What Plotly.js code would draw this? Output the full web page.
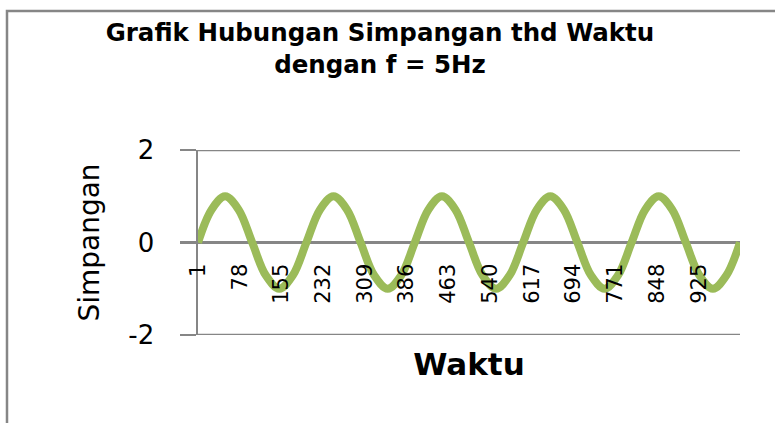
<!DOCTYPE html>
<html>
<head>
<meta charset="utf-8">
<script src="https://cdn.plot.ly/plotly-3.0.1.min.js"></script>
<style>html,body{margin:0;padding:0;background:#fff;}#chart{width:775px;height:423px;}</style>
</head>
<body>
<div id="chart"></div>
<script>
// Waktu (sample index) and Simpangan (5 full cycles)
const waktu = [1, 26, 51, 76, 101, 126, 151, 176, 201, 226, 251, 276, 301, 326, 351, 376, 401, 426, 451, 476, 501, 526, 551, 576, 601, 626, 651, 676, 701, 726, 751, 776, 801, 826, 851, 876, 901, 926, 951, 976, 1001];
const simpangan = [0, 0.71, 1, 0.71, 0, -0.71, -1, -0.71, 0, 0.71, 1, 0.71, 0, -0.71, -1, -0.71, 0, 0.71, 1, 0.71, 0, -0.71, -1, -0.71, 0, 0.71, 1, 0.71, 0, -0.71, -1, -0.71, 0, 0.71, 1, 0.71, 0, -0.71, -1, -0.71, 0];
const xTickVals = [1, 78, 155, 232, 309, 386, 463, 540, 617, 694, 771, 848, 925];
const xTickText = ["1", "78", "155", "232", "309", "386", "463", "540", "617", "694", "771", "848", "925"];
const yTickVals = [-2, 0, 2];
const yTickText = ["-2", "0", "2"];

const gray = '#868686';
const lw = 2.5;
const data = [{
  x: waktu, y: simpangan, type: 'scatter', mode: 'lines',
  line: {color: '#9BBB59', width: 8, shape: 'spline', smoothing: 1},
  hoverinfo: 'skip'
}];

// gridlines at the edge values of the y axis (Plotly skips grid at the range ends)
const edgeGrid = [yTickVals[0], yTickVals[yTickVals.length - 1]].map(v => ({
  type: 'line', xref: 'paper', yref: 'y', x0: 0, x1: 1, y0: v, y1: v,
  line: {color: gray, width: lw}, layer: 'below'
}));

const layout = {
  width: 775, height: 423,
  margin: {l: 198, r: 35, t: 150, b: 88},
  paper_bgcolor: '#ffffff', plot_bgcolor: '#ffffff',
  showlegend: false,
  title: {
    text: 'Grafik Hubungan Simpangan thd Waktu<br>dengan f = 5Hz',
    font: {family: 'DejaVu Sans', size: 24.5, color: '#000', weight: 'bold'},
    x: 0.4903, xanchor: 'center', y: 0.902, yanchor: 'top', yref: 'container'
  },
  xaxis: {
    range: [1, 1001], anchor: 'free', position: 0.5,
    tickmode: 'array', tickvals: xTickVals, ticktext: xTickText,
    tickangle: -90, ticks: '', showgrid: false, zeroline: false, showline: false,
    ticklabelstandoff: 16,
    tickfont: {family: 'DejaVu Sans', size: 21, color: '#000'},
    title: {text: 'Waktu', standoff: 50, font: {family: 'DejaVu Sans', size: 31, color: '#000', weight: 'bold'}},
    automargin: false
  },
  yaxis: {
    range: [-2, 2], tickmode: 'array', tickvals: yTickVals, ticktext: yTickText,
    ticks: 'outside', ticklen: 16, tickwidth: lw, tickcolor: gray,
    showgrid: true, gridcolor: gray, gridwidth: lw,
    zeroline: true, zerolinecolor: gray, zerolinewidth: lw,
    showline: true, linecolor: gray, linewidth: lw,
    layer: 'below traces',
    ticklabelstandoff: 20,
    tickfont: {family: 'DejaVu Sans', size: 26, color: '#000'},
    title: {text: 'Simpangan', standoff: 21, font: {family: 'DejaVu Sans', size: 28, color: '#000'}},
    automargin: false
  },
  shapes: [{
    type: 'rect', xref: 'paper', yref: 'paper',
    x0: -0.3524, x1: 1.2, y0: -0.6, y1: 1.7514,
    line: {color: gray, width: lw}, fillcolor: 'rgba(0,0,0,0)', layer: 'below'
  }].concat(edgeGrid)
};

Plotly.newPlot('chart', data, layout, {staticPlot: true, displayModeBar: false});
</script>
</body>
</html>
